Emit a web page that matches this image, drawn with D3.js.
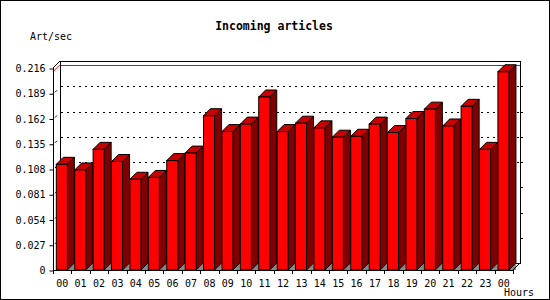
<!DOCTYPE html>
<html>
<head>
<meta charset="utf-8">
<script src="https://cdn.jsdelivr.net/npm/d3@7"></script>
<style>
  body { margin: 0; background: #fff; }
  svg { display: block; }
  text { font-family: "DejaVu Sans Mono", "Liberation Mono", monospace; }
</style>
</head>
<body>
<script>
// hours of the day (last one is midnight again)
var hours = ['00','01','02','03','04','05','06','07','08','09','10','11',
  '12','13','14','15','16','17','18','19','20','21','22','23','00']
// articles per second
var rates = [0.113, 0.107, 0.129, 0.116, 0.097, 0.099, 0.117, 0.125, 0.165,
  0.148, 0.156, 0.185, 0.148, 0.157, 0.152, 0.142, 0.143, 0.156, 0.147,
  0.162, 0.172, 0.154, 0.175, 0.129, 0.212]
var yTicks = [0, 0.027, 0.054, 0.081, 0.108, 0.135, 0.162, 0.189, 0.216]
var gridTicks = [0.108, 0.135, 0.162, 0.189]

var W = 550, H = 300
var pLeft = 53, pRight = 513, pBottom = 270, pTop = 68
var depth = 7

var svg = d3.select('body').append('svg')
  .attr('width', W).attr('height', H)

// outer frame
svg.append('rect')
  .attr('x', 0.5).attr('y', 0.5).attr('width', W - 1).attr('height', H - 1)
  .attr('fill', '#fff').attr('stroke', '#000')

var x = d3.scaleBand().domain(d3.range(hours.length)).range([pLeft, pRight])
var y = d3.scaleLinear().domain([0, 0.216]).range([pBottom, pTop])
var bw = x.bandwidth()

// back wall
svg.append('rect')
  .attr('x', pLeft + depth + 0.5).attr('y', y(0.216) - depth + 0.5)
  .attr('width', pRight - pLeft).attr('height', pBottom - pTop)
  .attr('fill', '#fff').attr('stroke', '#000')

// dashed grid on the back wall
svg.append('g').selectAll('line')
  .data(gridTicks)
  .enter().append('line')
  .attr('x1', pLeft + depth + 1).attr('x2', pRight + depth)
  .attr('y1', d => Math.round(y(d) - depth) + 0.5)
  .attr('y2', d => Math.round(y(d) - depth) + 0.5)
  .attr('stroke', '#000').attr('stroke-dasharray', '2,4')

// small ticks right of the back wall
svg.append('g').selectAll('line')
  .data(yTicks.slice(1, -1))
  .enter().append('line')
  .attr('x1', pRight + depth).attr('x2', pRight + depth + 3)
  .attr('y1', d => Math.round(y(d) - depth) + 0.5)
  .attr('y2', d => Math.round(y(d) - depth) + 0.5)
  .attr('stroke', '#000')

// max line in red
var maxV = d3.max(rates)
svg.append('line')
  .attr('x1', pLeft + depth + 1).attr('x2', pRight + depth)
  .attr('y1', Math.round(y(maxV) - depth) + 0.5)
  .attr('y2', Math.round(y(maxV) - depth) + 0.5)
  .attr('stroke', 'red')
svg.append('line')
  .attr('x1', pLeft).attr('y1', y(maxV))
  .attr('x2', pLeft + depth).attr('y2', y(maxV) - depth)
  .attr('stroke', 'red')

// left side diagonals
svg.append('line')
  .attr('x1', pLeft).attr('y1', pTop).attr('x2', pLeft + depth).attr('y2', pTop - depth)
  .attr('stroke', '#000')
svg.append('g').selectAll('line')
  .data(yTicks.slice(1, -1))
  .enter().append('line')
  .attr('x1', pLeft + 2).attr('y1', d => y(d) - 1)
  .attr('x2', pLeft + 4).attr('y2', d => y(d) - 3)
  .attr('stroke', '#000')

// bars
var bars = svg.append('g').selectAll('g')
  .data(rates)
  .enter().append('g')

function x0(i) { return x(i) + bw * 0.18 }
function x1(i) { return x(i) + bw * 0.18 + bw * 0.6 }

// floor showing under the bar side
bars.append('polygon')
  .attr('points', (d, i) => [[x1(i), pBottom], [x1(i) + depth, pBottom - depth], [x1(i) + depth, pBottom]].join(' '))
  .attr('fill', '#888')

bars.append('polygon')
  .attr('points', (d, i) => [[x1(i), y(d)], [x1(i) + depth, y(d) - depth],
    [x1(i) + depth, pBottom - depth], [x1(i), pBottom]].join(' '))
  .attr('fill', '#800000').attr('stroke', '#000')

bars.append('polygon')
  .attr('points', (d, i) => [[x0(i), y(d)], [x0(i) + depth, y(d) - depth],
    [x1(i) + depth, y(d) - depth], [x1(i), y(d)]].join(' '))
  .attr('fill', '#c80000').attr('stroke', '#000')

bars.append('rect')
  .attr('x', (d, i) => x0(i)).attr('y', d => y(d))
  .attr('width', bw * 0.6).attr('height', d => pBottom - y(d))
  .attr('fill', '#ff0000').attr('stroke', '#000')

// floor right edge
svg.append('line')
  .attr('x1', pRight).attr('y1', pBottom).attr('x2', pRight + depth).attr('y2', pBottom - depth)
  .attr('stroke', '#000')

// y axis
var yAxis = svg.append('g')
  .attr('transform', 'translate(' + (pLeft + 0.5) + ',0.5)')
  .call(d3.axisLeft(y).tickValues(yTicks).tickSize(4).tickPadding(4)
    .tickFormat(d => d === 0 ? '0' : d3.format('.3f')(d)))
yAxis.select('.domain').remove()
yAxis.selectAll('text').attr('font-size', 10).attr('font-family', null)
svg.append('line')
  .attr('x1', pLeft + 0.5).attr('x2', pLeft + 0.5).attr('y1', pTop).attr('y2', pBottom + 4)
  .attr('stroke', '#000')

// x axis
var xAxis = svg.append('g')
  .attr('transform', 'translate(0,' + (pBottom + 0.5) + ')')
  .call(d3.axisBottom(x).tickSize(0).tickPadding(9).tickFormat(i => hours[i]))
xAxis.select('.domain').remove()
xAxis.selectAll('text').attr('font-size', 10).attr('font-family', null)
svg.append('line')
  .attr('x1', pLeft).attr('x2', pRight).attr('y1', pBottom + 0.5).attr('y2', pBottom + 0.5)
  .attr('stroke', '#000')
svg.append('g').selectAll('line')
  .data(d3.range(1, hours.length + 1))
  .enter().append('line')
  .attr('x1', i => Math.round(i < hours.length ? x(i) : pRight) + 0.5)
  .attr('x2', i => Math.round(i < hours.length ? x(i) : pRight) + 0.5)
  .attr('y1', pBottom).attr('y2', pBottom + 4)
  .attr('stroke', '#000')

// titles
svg.append('text')
  .attr('x', 274).attr('y', 30).attr('text-anchor', 'middle')
  .attr('font-size', 11.5).attr('font-weight', 'bold')
  .text('Incoming articles')
svg.append('text')
  .attr('x', 30).attr('y', 40).attr('font-size', 10)
  .text('Art/sec')
svg.append('text')
  .attr('x', 504).attr('y', 296).attr('font-size', 10)
  .text('Hours')
</script>
</body>
</html>
